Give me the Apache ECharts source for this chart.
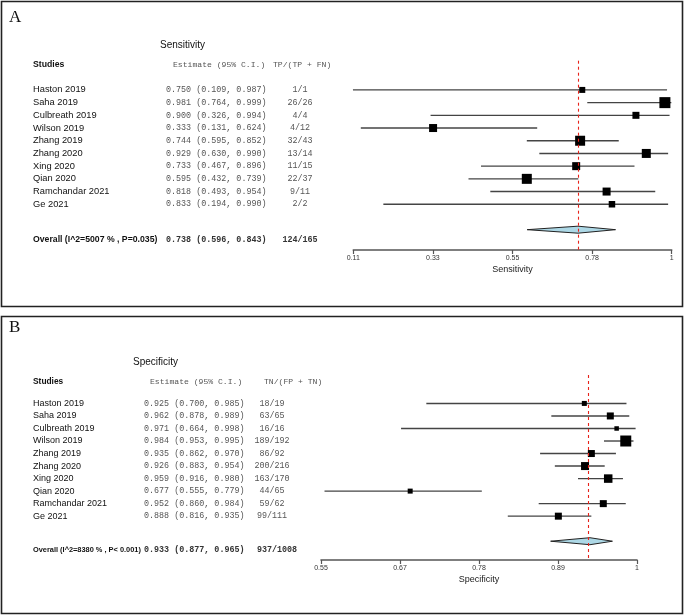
<!DOCTYPE html>
<html><head><meta charset="utf-8">
<script src="https://cdn.jsdelivr.net/npm/echarts@6/dist/echarts.min.js"></script>
<style>html,body{margin:0;padding:0;background:#fff}#c{width:685px;height:616px}</style>
</head><body><div id="c"></div>
<script>
// ---------- Data ----------
const studies = ['Haston 2019','Saha 2019','Culbreath 2019','Wilson 2019','Zhang 2019','Zhang 2020','Xing 2020','Qian 2020','Ramchandar 2021','Ge 2021'];

const sensEst = [0.750,0.981,0.900,0.333,0.744,0.929,0.733,0.595,0.818,0.833];
const sensLo  = [0.109,0.764,0.326,0.131,0.595,0.630,0.467,0.432,0.493,0.194];
const sensHi  = [0.987,0.999,0.994,0.624,0.852,0.990,0.896,0.739,0.954,0.990];
const sensTP  = [1,26,4,4,32,13,11,22,9,2];
const sensPos = [1,26,4,12,43,14,15,37,11,2];
const sensWeight = [6,11,7,8,10,9,8,10,8,6.5];
const sensOverall = [0.738,0.596,0.843];
const sensOverallCount = [124,165];
const sensOverallLabel = 'Overall (I^2=5007 % , P=0.035)';
const sensTickValues = [0.11,0.3325,0.555,0.7775,1];
const sensTickLabels = ['0.11','0.33','0.55','0.78','1'];

const specEst = [0.925,0.962,0.971,0.984,0.935,0.926,0.959,0.677,0.952,0.888];
const specLo  = [0.700,0.878,0.664,0.953,0.862,0.883,0.916,0.555,0.860,0.816];
const specHi  = [0.985,0.989,0.998,0.995,0.970,0.954,0.980,0.779,0.984,0.935];
const specTN  = [18,63,16,189,86,200,163,44,59,99];
const specNeg = [19,65,16,192,92,216,170,65,62,111];
const specWeight = [5,7,4.5,11,7,8,8.5,5,7,7];
const specOverall = [0.933,0.877,0.965];
const specOverallCount = [937,1008];
const specOverallLabel = 'Overall (I^2=8380 % , P< 0.001)';
const specTickValues = [0.55,0.6625,0.775,0.8875,1];
const specTickLabels = ['0.55','0.67','0.78','0.89','1'];

// ---------- Styles ----------
const SANS = '"Liberation Sans", Arial, Helvetica, sans-serif';
const MONO = '"Liberation Mono", "Courier New", monospace';

function fmtCI(e, l, h) { return e.toFixed(3) + ' (' + l.toFixed(3) + ', ' + h.toFixed(3) + ')'; }

function buildPanel(cfg) {
  const gi = cfg.gi;
  const fName = cfg.nameSize + 'px ' + SANS;
  const fStud = 'bold ' + cfg.studSize + 'px ' + SANS;
  const fOv = 'bold ' + cfg.ovSize + 'px ' + SANS;
  const fTitle = '10px ' + SANS;
  const fMono = '8.4px ' + MONO;
  const fMonoH = '8.1px ' + MONO;
  const fMonoB = 'bold 8.4px ' + MONO;
  const texts = [];
  texts.push({row: cfg.titleRow, x: cfg.titleX, text: cfg.title, font: fTitle, fill: '#111', align: 'left'});
  texts.push({row: cfg.headRow, x: 33, text: 'Studies', font: fStud, fill: '#111', align: 'left'});
  texts.push({row: cfg.headRow, x: cfg.estHeadX, text: 'Estimate (95% C.I.)', font: fMonoH, fill: '#555', align: 'left'});
  texts.push({row: cfg.headRow, x: cfg.cntHeadX, text: cfg.cntHead, font: fMonoH, fill: '#555', align: 'left'});
  for (let i = 0; i < studies.length; i++) {
    texts.push({row: i, x: 33, text: studies[i], font: fName, fill: '#111', align: 'left'});
    texts.push({row: i, x: cfg.estX, text: fmtCI(cfg.est[i], cfg.lo[i], cfg.hi[i]), font: fMono, fill: '#555', align: 'left'});
    texts.push({row: i, x: cfg.cntX, text: cfg.num[i] + '/' + cfg.den[i], font: fMono, fill: '#555', align: 'center'});
  }
  texts.push({row: cfg.ovTextRow, x: 33, text: cfg.ovLabel, font: fOv, fill: '#111', align: 'left'});
  texts.push({row: cfg.ovTextRow, x: cfg.estX, text: fmtCI(cfg.ov[0], cfg.ov[1], cfg.ov[2]), font: fMonoB, fill: '#333', align: 'left'});
  texts.push({row: cfg.ovTextRow, x: cfg.ovCntX, text: cfg.ovCount[0] + '/' + cfg.ovCount[1], font: fMonoB, fill: '#333', align: 'center'});

  const xMin = cfg.ticks[0];
  const series = [];
  series.push({
    type: 'custom', xAxisIndex: gi, yAxisIndex: gi, clip: false,
    data: cfg.est.map((e, i) => [e, i, cfg.lo[i], cfg.hi[i], cfg.w[i]]),
    encode: {x: 0, y: 1},
    renderItem: function (params, api) {
      const row = api.value(1);
      const p = api.coord([api.value(0), row]);
      const a = api.coord([api.value(2), row]);
      const b = api.coord([api.value(3), row]);
      const s = api.value(4);
      return {type: 'group', children: [
        {type: 'line', shape: {x1: a[0], y1: a[1], x2: b[0], y2: b[1]}, style: {stroke: '#444', lineWidth: 1.4}},
        {type: 'rect', shape: {x: p[0] - s / 2, y: p[1] - s / 2, width: s, height: s}, style: {fill: '#000'}}
      ]};
    },
    markLine: {
      silent: true, symbol: 'none', label: {show: false},
      lineStyle: {color: '#e8231a', type: [3, 3], width: 1.1},
      data: [{xAxis: cfg.ov[0]}]
    },
    z: 3
  });
  series.push({
    type: 'custom', xAxisIndex: gi, yAxisIndex: gi, clip: false,
    data: [[cfg.ov[0], cfg.diamondRow, cfg.ov[1], cfg.ov[2]]],
    encode: {x: 0, y: 1},
    renderItem: function (params, api) {
      const row = api.value(1);
      const c = api.coord([api.value(0), row]);
      const l = api.coord([api.value(2), row]);
      const r = api.coord([api.value(3), row]);
      const h = 3.5;
      return {type: 'polygon', shape: {points: [[l[0], c[1]], [c[0], c[1] - h], [r[0], c[1]], [c[0], c[1] + h]]},
        style: {fill: '#add8e6', stroke: '#222', lineWidth: 1}};
    },
    z: 2
  });
  series.push({
    type: 'custom', xAxisIndex: gi, yAxisIndex: gi, clip: false,
    data: texts.map((t, k) => [xMin, t.row, k]),
    encode: {x: 0, y: 1},
    renderItem: function (params, api) {
      const t = texts[api.value(2)];
      const y = api.coord([api.value(0), api.value(1)])[1];
      return {type: 'text', x: t.x, y: y, style: {
        text: t.text, font: t.font, fill: t.fill,
        textAlign: t.align, align: t.align, textVerticalAlign: 'middle', verticalAlign: 'middle'
      }};
    },
    z: 4
  });

  const xAxis = {
    gridIndex: gi, type: 'value', min: cfg.ticks[0], max: cfg.ticks[cfg.ticks.length - 1],
    name: cfg.axisName, nameLocation: 'middle', nameGap: 15,
    nameTextStyle: {fontSize: 9, color: '#222', fontFamily: SANS},
    splitLine: {show: false},
    axisLine: {show: true, onZero: false, lineStyle: {color: '#555', width: 1.6}},
    axisTick: {show: true, inside: false, length: 4, customValues: cfg.ticks, lineStyle: {color: '#555', width: 1.2}},
    axisLabel: {show: true, customValues: cfg.ticks, fontSize: 7, color: '#333', margin: 5, fontFamily: SANS,
      formatter: function (v) {
        let best = 0;
        for (let k = 1; k < cfg.ticks.length; k++) if (Math.abs(cfg.ticks[k] - v) < Math.abs(cfg.ticks[best] - v)) best = k;
        return cfg.tickLabels[best];
      }}
  };
  const yAxis = {gridIndex: gi, type: 'value', inverse: true, min: cfg.yMin, max: cfg.yMax, show: false};
  return {series, xAxis, yAxis};
}

const A = buildPanel({
  gi: 0, title: 'Sensitivity', titleX: 160, titleRow: -3.5, headRow: -2,
  estHeadX: 173, cntHead: 'TP/(TP + FN)', cntHeadX: 273, estX: 166, cntX: 300, ovCntX: 300,
  nameSize: 9.3, studSize: 8.7, ovSize: 8.7,
  est: sensEst, lo: sensLo, hi: sensHi, num: sensTP, den: sensPos, w: sensWeight,
  ov: sensOverall, ovCount: sensOverallCount, ovLabel: sensOverallLabel,
  diamondRow: 11, ovTextRow: 11.8, ticks: sensTickValues, tickLabels: sensTickLabels,
  axisName: 'Sensitivity', yMin: -2.3, yMax: 12.6
});
const B = buildPanel({
  gi: 1, title: 'Specificity', titleX: 133, titleRow: -3.3, headRow: -1.75,
  estHeadX: 150, cntHeadX: 264, cntHead: 'TN/(FP + TN)', estX: 144, cntX: 272, ovCntX: 277,
  nameSize: 9, studSize: 8.4, ovSize: 7.4,
  est: specEst, lo: specLo, hi: specHi, num: specTN, den: specNeg, w: specWeight,
  ov: specOverall, ovCount: specOverallCount, ovLabel: specOverallLabel,
  diamondRow: 11, ovTextRow: 11.7, ticks: specTickValues, tickLabels: specTickLabels,
  axisName: 'Specificity', yMin: -2.27, yMax: 12.5
});

const chart = echarts.init(document.getElementById('c'), null, {renderer: 'canvas'});
chart.setOption({
  backgroundColor: '#fff',
  animation: false,
  grid: [
    {left: 353.3, right: 13.3, top: 60.7, bottom: 366},
    {left: 321, right: 48, top: 375, bottom: 56}
  ],
  xAxis: [A.xAxis, B.xAxis],
  yAxis: [A.yAxis, B.yAxis],
  series: A.series.concat(B.series),
  graphic: [
    {type: 'rect', shape: {x: 1.5, y: 1.5, width: 681, height: 305}, style: {fill: 'none', stroke: '#222', lineWidth: 1.6}, silent: true},
    {type: 'rect', shape: {x: 1.5, y: 316.5, width: 681, height: 297}, style: {fill: 'none', stroke: '#222', lineWidth: 1.6}, silent: true},
    {type: 'text', x: 9, y: 18, style: {text: 'A', font: '17px "Liberation Serif", "Times New Roman", serif', fill: '#111', textVerticalAlign: 'middle', verticalAlign: 'middle'}},
    {type: 'text', x: 9, y: 328, style: {text: 'B', font: '17px "Liberation Serif", "Times New Roman", serif', fill: '#111', textVerticalAlign: 'middle', verticalAlign: 'middle'}}
  ]
});
</script>
</body></html>
